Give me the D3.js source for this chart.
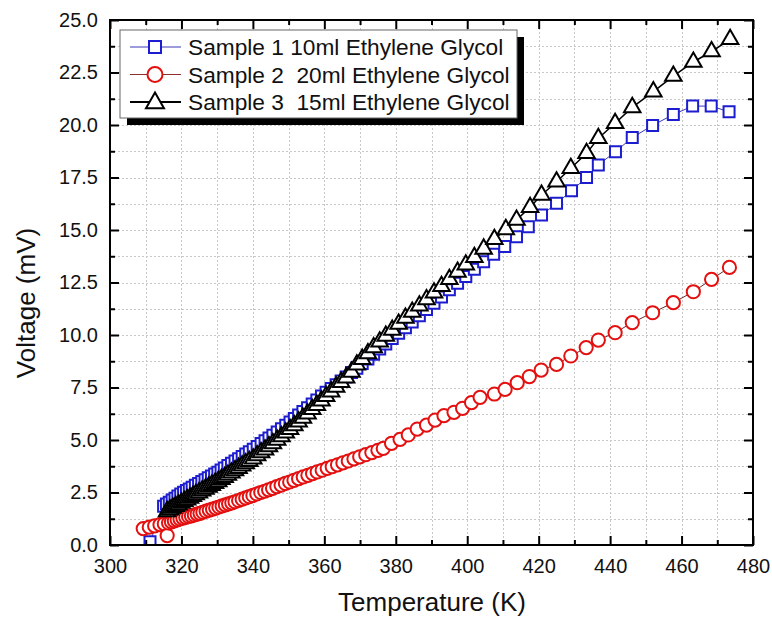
<!DOCTYPE html>
<html>
<head>
<meta charset="utf-8">
<script src="https://cdn.jsdelivr.net/npm/d3@7"></script>
<style>
  html, body { margin: 0; padding: 0; background: #fff; }
  svg { display: block; font-family: "Liberation Sans", Arial, sans-serif; }
</style>
</head>
<body>
<svg id="chart" width="772" height="621"></svg>
<script>
// ---------------- DATA ----------------
const seriesNames = [
  "Sample 1 10ml Ethylene Glycol",
  "Sample 2  20ml Ethylene Glycol",
  "Sample 3  15ml Ethylene Glycol"
];

const s1Temp = [311.2, 315.0, 315.8, 316.6, 317.4, 318.2, 319.0, 319.8, 320.6, 321.4, 322.2, 323.0, 323.9, 324.8, 325.7, 326.6, 327.5, 328.4, 329.3, 330.2, 331.1, 332.0, 333.0, 334.0, 335.0, 336.0, 337.0, 338.0, 339.0, 340.1, 341.2, 342.3, 343.4, 344.5, 345.6, 346.8, 348.0, 349.2, 350.4, 351.6, 352.8, 354.0, 355.3, 356.6, 357.9, 359.2, 360.5, 361.9, 363.3, 364.7, 366.1, 367.6, 369.1, 370.6, 372.2, 373.8, 375.5, 377.2, 379.0, 380.8, 382.7, 384.6, 386.6, 388.6, 390.7, 392.8, 395.0, 397.3, 399.6, 402.0, 404.6, 407.4, 410.5, 413.8, 417.1, 420.8, 425.0, 429.2, 433.4, 436.7, 441.5, 446.2, 451.9, 457.7, 463.1, 468.3, 473.3];
const s1Volt = [0.15, 1.85, 1.95, 2.04, 2.14, 2.23, 2.33, 2.43, 2.51, 2.59, 2.67, 2.75, 2.84, 2.93, 3.02, 3.11, 3.20, 3.29, 3.38, 3.47, 3.57, 3.67, 3.78, 3.89, 4.00, 4.11, 4.22, 4.33, 4.44, 4.56, 4.69, 4.83, 4.96, 5.09, 5.23, 5.38, 5.54, 5.70, 5.86, 6.02, 6.19, 6.36, 6.54, 6.72, 6.91, 7.09, 7.27, 7.45, 7.63, 7.81, 8.00, 8.21, 8.42, 8.64, 8.86, 9.08, 9.33, 9.57, 9.83, 10.08, 10.35, 10.62, 10.92, 11.21, 11.51, 11.81, 12.15, 12.47, 12.79, 13.13, 13.49, 13.85, 14.22, 14.68, 15.16, 15.71, 16.27, 16.87, 17.50, 18.10, 18.73, 19.40, 19.98, 20.50, 20.90, 20.90, 20.63];

const s2Temp = [309.3, 311.0, 312.5, 314.0, 315.2, 316.0, 316.4, 317.2, 318.0, 318.8, 319.6, 320.4, 321.2, 322.0, 322.8, 323.6, 324.4, 325.2, 326.0, 326.9, 327.8, 328.7, 329.6, 330.5, 331.4, 332.3, 333.2, 334.1, 335.0, 336.0, 337.0, 338.0, 339.0, 340.0, 341.1, 342.2, 343.3, 344.4, 345.5, 346.7, 347.9, 349.1, 350.3, 351.5, 352.8, 354.1, 355.4, 356.7, 358.0, 359.4, 360.8, 362.2, 363.7, 365.2, 366.7, 368.3, 369.9, 371.6, 373.3, 375.0, 376.5, 378.8, 381.2, 383.5, 386.0, 388.6, 391.0, 393.5, 396.3, 398.7, 401.2, 403.6, 407.6, 410.6, 414.0, 417.4, 420.7, 425.0, 429.0, 433.3, 436.7, 441.4, 446.2, 451.9, 457.7, 463.3, 468.4, 473.4];
const s2Volt = [0.78, 0.85, 0.91, 0.97, 1.01, 0.45, 1.05, 1.10, 1.15, 1.20, 1.24, 1.28, 1.32, 1.36, 1.39, 1.43, 1.47, 1.51, 1.56, 1.61, 1.66, 1.71, 1.76, 1.81, 1.86, 1.91, 1.96, 2.01, 2.06, 2.12, 2.18, 2.24, 2.30, 2.36, 2.43, 2.50, 2.56, 2.63, 2.70, 2.78, 2.85, 2.93, 3.00, 3.08, 3.16, 3.24, 3.32, 3.40, 3.48, 3.56, 3.65, 3.73, 3.82, 3.91, 4.00, 4.10, 4.20, 4.30, 4.40, 4.51, 4.60, 4.84, 5.03, 5.24, 5.52, 5.71, 5.95, 6.16, 6.32, 6.51, 6.78, 7.03, 7.19, 7.41, 7.73, 8.02, 8.33, 8.60, 9.00, 9.40, 9.76, 10.11, 10.59, 11.06, 11.54, 12.06, 12.65, 13.22];

const s3Temp = [316.0, 316.8, 317.6, 318.4, 319.2, 320.0, 320.8, 321.6, 322.4, 323.2, 324.0, 324.9, 325.8, 326.7, 327.6, 328.5, 329.4, 330.3, 331.2, 332.1, 333.0, 334.0, 335.0, 336.0, 337.0, 338.0, 339.0, 340.1, 341.2, 342.3, 343.4, 344.5, 345.6, 346.8, 348.0, 349.2, 350.4, 351.6, 352.8, 354.0, 355.3, 356.6, 357.9, 359.2, 360.5, 361.9, 363.3, 364.7, 366.1, 367.6, 369.1, 370.6, 372.2, 373.8, 375.5, 377.2, 379.0, 380.8, 382.7, 384.6, 386.6, 388.6, 390.7, 392.8, 395.0, 397.3, 399.6, 402.0, 404.6, 407.6, 410.8, 413.8, 417.6, 420.8, 425.0, 429.0, 433.4, 436.7, 441.4, 446.2, 452.1, 457.7, 463.3, 468.4, 473.6];
const s3Volt = [1.60, 1.68, 1.76, 1.84, 1.92, 2.00, 2.08, 2.16, 2.24, 2.32, 2.40, 2.49, 2.58, 2.67, 2.76, 2.85, 2.94, 3.03, 3.13, 3.23, 3.33, 3.44, 3.55, 3.66, 3.77, 3.88, 3.99, 4.11, 4.26, 4.40, 4.54, 4.69, 4.83, 5.00, 5.17, 5.34, 5.51, 5.69, 5.87, 6.05, 6.25, 6.46, 6.66, 6.87, 7.08, 7.30, 7.53, 7.75, 7.96, 8.24, 8.58, 8.85, 9.12, 9.40, 9.68, 9.95, 10.24, 10.52, 10.81, 11.09, 11.39, 11.69, 12.01, 12.32, 12.65, 13.00, 13.34, 13.70, 14.10, 14.56, 15.03, 15.48, 16.08, 16.67, 17.30, 17.94, 18.65, 19.37, 20.08, 20.84, 21.59, 22.33, 23.00, 23.50, 24.08];

const xTickValues = [300, 320, 340, 360, 380, 400, 420, 440, 460, 480];
const yTickValues = [0, 2.5, 5, 7.5, 10, 12.5, 15, 17.5, 20, 22.5, 25];
const xTitle = "Temperature (K)";
const yTitle = "Voltage (mV)";

// ---------------- LAYOUT ----------------
const L = 110, R = 753, T = 20, B = 545;
const svg = d3.select("#chart");

const x = d3.scaleLinear().domain([300, 480]).range([L, R]);
const y = d3.scaleLinear().domain([0, 25]).range([B, T]);

const xMinor = d3.range(310, 480, 20);
const yMinor = d3.range(1.25, 25, 2.5);
const xGrid = d3.range(310, 480, 10);
const yGrid = d3.range(1.25, 25, 1.25);

// grid
const grid = svg.append("g").attr("stroke", "#c8c8c8").attr("stroke-width", 1)
  .attr("stroke-dasharray", "2,2");
grid.selectAll("line.gx").data(xGrid).join("line")
  .attr("x1", d => Math.round(x(d)) + 0.5).attr("x2", d => Math.round(x(d)) + 0.5)
  .attr("y1", T).attr("y2", B);
grid.selectAll("line.gy").data(yGrid).join("line")
  .attr("y1", d => Math.round(y(d)) + 0.5).attr("y2", d => Math.round(y(d)) + 0.5)
  .attr("x1", L).attr("x2", R);

// clip
svg.append("defs").append("clipPath").attr("id", "plotclip")
  .append("rect").attr("x", L).attr("y", T).attr("width", R - L).attr("height", B - T);

const plot = svg.append("g").attr("clip-path", "url(#plotclip)");

function zip(t, v) { return t.map((d, i) => [d, v[i]]); }
const s1 = zip(s1Temp, s1Volt), s2 = zip(s2Temp, s2Volt), s3 = zip(s3Temp, s3Volt);

const line = d3.line().x(d => x(d[0])).y(d => y(d[1]));

const blue = "#1c1cd0", red = "#e41010";

// Series 1: blue squares
plot.append("path").datum(s1).attr("d", line).attr("fill", "none")
  .attr("stroke", "#3a3ab8").attr("stroke-width", 1);
const sq = d3.symbol(d3.symbolSquare, 121);
plot.append("g").selectAll("path").data(s1).join("path")
  .attr("d", sq).attr("transform", d => `translate(${x(d[0])},${y(d[1])})`)
  .attr("fill", "#fff").attr("stroke", blue).attr("stroke-width", 2);

// Series 2: red circles
plot.append("path").datum(s2).attr("d", line).attr("fill", "none")
  .attr("stroke", "#6a2a2a").attr("stroke-width", 1);
plot.append("g").selectAll("circle").data(s2).join("circle")
  .attr("cx", d => x(d[0])).attr("cy", d => y(d[1])).attr("r", 6.6)
  .attr("fill", "#fff").attr("stroke", red).attr("stroke-width", 2);

// Series 3: black triangles
plot.append("path").datum(s3).attr("d", line).attr("fill", "none")
  .attr("stroke", "#000").attr("stroke-width", 1.5);
const tri = d3.symbol(d3.symbolTriangle, 118);
plot.append("g").selectAll("path").data(s3).join("path")
  .attr("d", tri).attr("transform", d => `translate(${x(d[0])},${y(d[1])})`)
  .attr("fill", "#fff").attr("stroke", "#000").attr("stroke-width", 2)
  .attr("stroke-linejoin", "miter");

// ---------------- AXES ----------------
const fs = 20;
const axB = svg.append("g").attr("transform", `translate(0,${B})`)
  .call(d3.axisBottom(x).tickValues(xTickValues).tickFormat(d3.format("d"))
    .tickSizeInner(-9).tickSizeOuter(0).tickPadding(14));
const axBm = svg.append("g").attr("transform", `translate(0,${B})`)
  .call(d3.axisBottom(x).tickValues(xMinor).tickFormat("").tickSizeInner(-5).tickSizeOuter(0));
const axT = svg.append("g").attr("transform", `translate(0,${T})`)
  .call(d3.axisTop(x).tickValues(xTickValues).tickFormat("").tickSizeInner(-9).tickSizeOuter(0));
const axTm = svg.append("g").attr("transform", `translate(0,${T})`)
  .call(d3.axisTop(x).tickValues(xMinor).tickFormat("").tickSizeInner(-5).tickSizeOuter(0));
const axL = svg.append("g").attr("transform", `translate(${L},0)`)
  .call(d3.axisLeft(y).tickValues(yTickValues).tickFormat(d3.format(".1f"))
    .tickSizeInner(-9).tickSizeOuter(0).tickPadding(12));
const axLm = svg.append("g").attr("transform", `translate(${L},0)`)
  .call(d3.axisLeft(y).tickValues(yMinor).tickFormat("").tickSizeInner(-5).tickSizeOuter(0));
const axR = svg.append("g").attr("transform", `translate(${R},0)`)
  .call(d3.axisRight(y).tickValues(yTickValues).tickFormat("").tickSizeInner(-9).tickSizeOuter(0));
const axRm = svg.append("g").attr("transform", `translate(${R},0)`)
  .call(d3.axisRight(y).tickValues(yMinor).tickFormat("").tickSizeInner(-5).tickSizeOuter(0));

[axB, axBm, axT, axTm, axL, axLm, axR, axRm].forEach(g => {
  g.select(".domain").remove();
  g.selectAll(".tick line").attr("stroke", "#000").attr("stroke-width", 2);
  g.selectAll(".tick text").attr("font-size", fs).attr("fill", "#111")
    .attr("font-family", "Liberation Sans, Arial, sans-serif");
});
// frame
svg.append("rect").attr("x", L).attr("y", T).attr("width", R - L).attr("height", B - T)
  .attr("fill", "none").attr("stroke", "#000").attr("stroke-width", 2);

// titles
svg.append("text").attr("x", 432).attr("y", 611).attr("text-anchor", "middle")
  .attr("font-size", 26).attr("fill", "#111").text(xTitle);
svg.append("text").attr("transform", "translate(35,303) rotate(-90)")
  .attr("text-anchor", "middle").attr("font-size", 26).attr("fill", "#111").text(yTitle);

// ---------------- LEGEND ----------------
const lg = svg.append("g");
const lx = 120, ly = 30, lw = 397, lh = 88;
lg.append("rect").attr("x", lx + 7).attr("y", ly + 7).attr("width", lw).attr("height", lh).attr("fill", "#000");
lg.append("rect").attr("x", lx).attr("y", ly).attr("width", lw).attr("height", lh)
  .attr("fill", "#fff").attr("stroke", "#666").attr("stroke-width", 1);
const rowY = [47, 74.5, 102];
const lineCols = ["#3a3ab8", "#8a3030", "#000"];
const lineW = [1, 1, 2];
seriesNames.forEach((name, i) => {
  const cy = rowY[i];
  lg.append("line").attr("x1", 130).attr("x2", 181).attr("y1", cy).attr("y2", cy)
    .attr("stroke", lineCols[i]).attr("stroke-width", lineW[i]);
  if (i === 0) {
    lg.append("path").attr("d", d3.symbol(d3.symbolSquare, 144)())
      .attr("transform", `translate(155,${cy})`).attr("fill", "#fff").attr("stroke", blue).attr("stroke-width", 2);
  } else if (i === 1) {
    lg.append("circle").attr("cx", 155).attr("cy", cy).attr("r", 7.5)
      .attr("fill", "#fff").attr("stroke", red).attr("stroke-width", 2);
  } else {
    lg.append("path").attr("d", d3.symbol(d3.symbolTriangle, 140)())
      .attr("transform", `translate(155,${cy + 1})`).attr("fill", "#fff").attr("stroke", "#000").attr("stroke-width", 2);
  }
  lg.append("text").attr("x", 188).attr("y", cy + 8).attr("font-size", 22.7)
    .attr("fill", "#111").attr("xml:space", "preserve").style("white-space", "pre").text(name);
});
</script>
</body>
</html>
